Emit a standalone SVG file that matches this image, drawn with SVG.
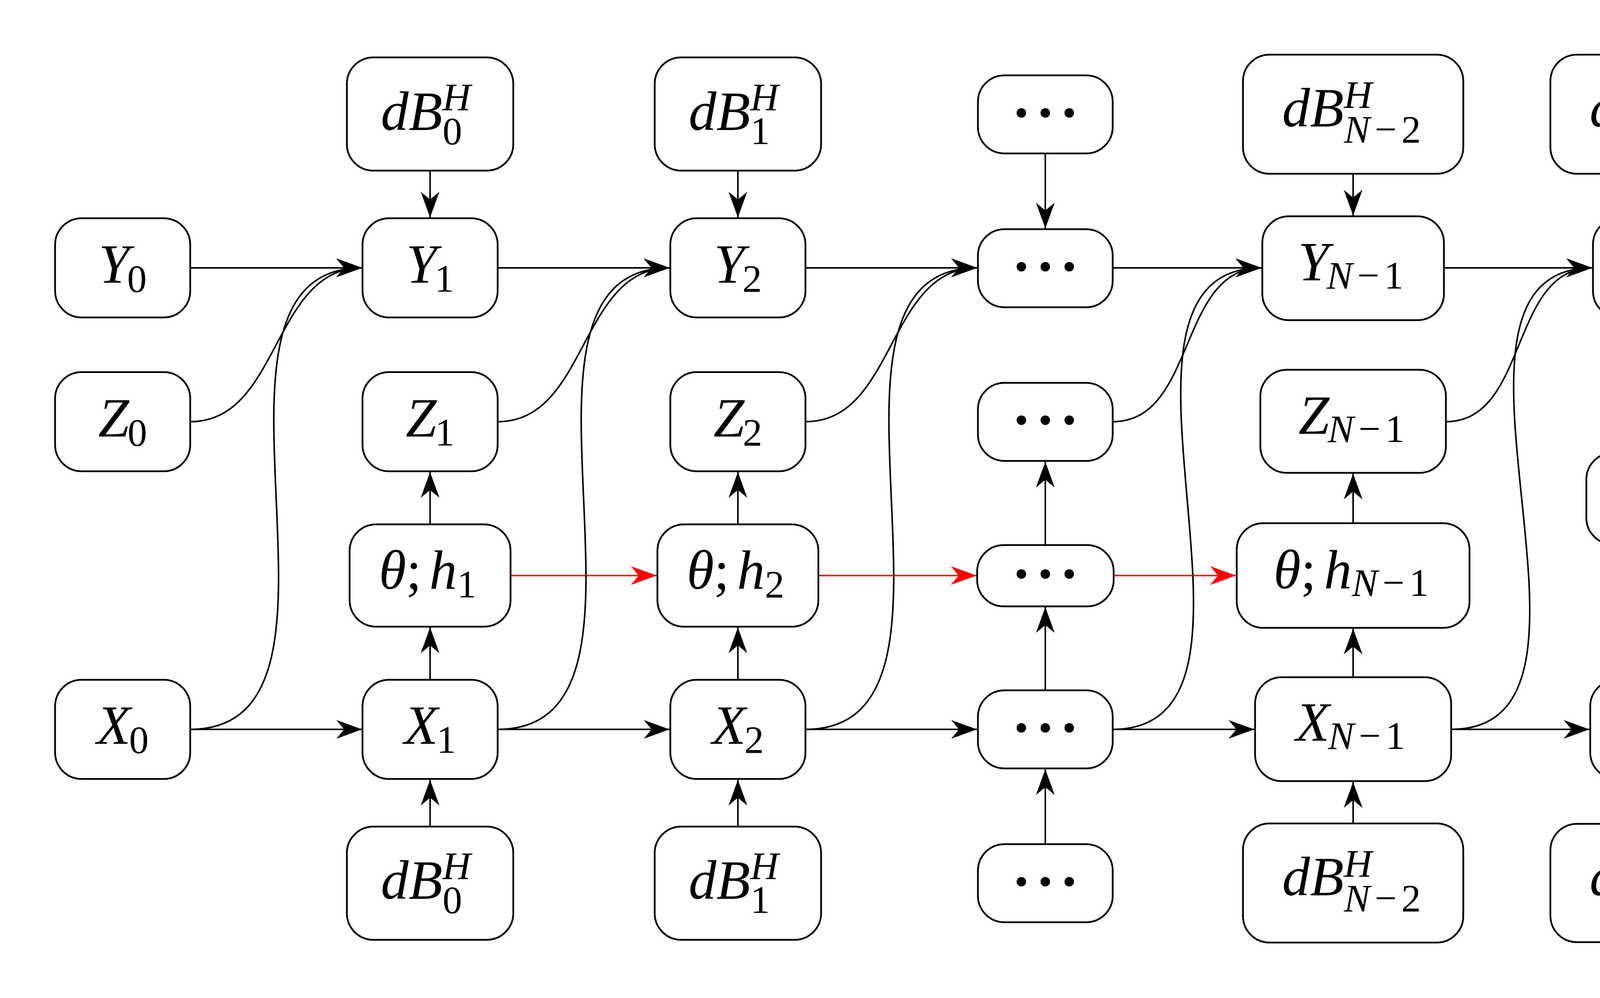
<svg xmlns="http://www.w3.org/2000/svg" width="4674" height="2556" viewBox="0 0 4674 2556">
<style>
.b{fill:#fff;stroke:#000;stroke-width:4.5}
.c{fill:none;stroke:#000;stroke-width:4;marker-end:url(#ah)}
.r{fill:none;stroke:#f00;stroke-width:4;marker-end:url(#ahr)}
.t{font-family:"Liberation Serif","Times New Roman",serif;font-size:142px;text-anchor:middle;fill:#000}
.i{font-style:italic}
.s{font-size:100px}
.d{font-family:"Noto Sans CJK JP","DejaVu Sans",sans-serif;font-size:184px;text-anchor:middle;fill:#000}
</style>
<defs>
<marker id="ah" markerUnits="userSpaceOnUse" markerWidth="70" markerHeight="52" viewBox="0 0 70 52" refX="66" refY="26" orient="auto"><path d="M0,2 L66,26 L0,50 L20,26 Z" fill="#000"/></marker>
<marker id="ahr" markerUnits="userSpaceOnUse" markerWidth="70" markerHeight="52" viewBox="0 0 70 52" refX="66" refY="26" orient="auto"><path d="M0,2 L66,26 L0,50 L20,26 Z" fill="#f00"/></marker>
</defs>
<rect width="4674" height="2556" fill="#fff"/>
<g id="connectors">
<path class="c" d="M487,686 H927"/>
<path class="c" d="M1274,686 H1714"/>
<path class="c" d="M2062,686 H2501"/>
<path class="c" d="M2848.5,686 H3229"/>
<path class="c" d="M3696.5,686 H4076"/>
<path class="c" d="M487,1868 H927"/>
<path class="c" d="M1274,1868 H1714"/>
<path class="c" d="M2062,1868 H2501"/>
<path class="c" d="M2848.5,1868 H3211"/>
<path class="c" d="M3715,1868 H4069"/>
<path class="r" d="M1307,1474 H1681"/>
<path class="r" d="M2095,1474 H2500"/>
<path class="r" d="M2851,1474 H3164"/>
<path class="c" d="M1101,437 V557"/>
<path class="c" d="M1889,437 V557"/>
<path class="c" d="M2676,393 V585"/>
<path class="c" d="M3464,445 V552"/>
<path class="c" d="M4251,445 V556"/>
<path class="c" d="M1101,1741 V1607"/>
<path class="c" d="M1889,1741 V1607"/>
<path class="c" d="M2676,1768 V1555"/>
<path class="c" d="M3464,1734.5 V1610"/>
<path class="c" d="M1101,1343 V1209"/>
<path class="c" d="M1889,1343 V1209"/>
<path class="c" d="M2676,1396 V1182.5"/>
<path class="c" d="M3464,1340 V1213"/>
<path class="c" d="M1101,2117 V1997"/>
<path class="c" d="M1889,2117 V1997"/>
<path class="c" d="M2676,2162 V1970"/>
<path class="c" d="M3464,2109 V2003"/>
<path class="c" d="M4251,2110 V1997"/>
<path class="c" d="M4251,813.5 V1158"/>
<path class="c" d="M4251,1741 V1396"/>
<path class="c" d="M487,1080 C718,1080 696,686 927,686"/>
<path class="c" d="M1274,1080 C1505,1080 1483,686 1714,686"/>
<path class="c" d="M2062,1080 C2293,1080 2270.5,686 2501.5,686"/>
<path class="c" d="M2848.5,1080 C3063,1080 3015,686 3229.5,686"/>
<path class="c" d="M3701.5,1080 C3914,1080 3863,686 4076,686"/>
<path class="c" d="M487,1868 C981,1868 433,686 927,686"/>
<path class="c" d="M1274,1868 C1768,1868 1220,686 1714,686"/>
<path class="c" d="M2062,1868 C2555.7,1868 2007.8,686 2501.5,686"/>
<path class="c" d="M2848.5,1868 C3334.5,1868 2743.5,686 3229.5,686"/>
<path class="c" d="M3715,1868 C4199,1868 3592,686 4076,686"/>
</g>
<g id="Y0"><rect class="b" x="141" y="559" width="346" height="254" rx="68"/><text class="t" x="314" y="724"><tspan class="i">Y</tspan><tspan class="s" dx="-6" dy="23">0</tspan></text></g>
<g id="Z0"><rect class="b" x="141" y="953" width="346" height="254" rx="68"/><text class="t" x="314" y="1118"><tspan class="i">Z</tspan><tspan class="s" dx="-4" dy="23">0</tspan></text></g>
<g id="X0"><rect class="b" x="141" y="1741" width="346" height="254" rx="68"/><text class="t" x="314" y="1905"><tspan class="i">X</tspan><tspan class="s" dx="-4" dy="23">0</tspan></text></g>
<g id="dBtop0"><rect class="b" x="888" y="147" width="426" height="290" rx="68"/><text class="t" x="1090" y="333"><tspan class="i">dB</tspan><tspan class="s i" dy="-51">H</tspan><tspan class="s" dx="-72" dy="87">0</tspan></text></g>
<g id="Y1"><rect class="b" x="928" y="559" width="346" height="254" rx="68"/><text class="t" x="1101" y="724"><tspan class="i">Y</tspan><tspan class="s" dx="-6" dy="23">1</tspan></text></g>
<g id="Z1"><rect class="b" x="928" y="953" width="346" height="254" rx="68"/><text class="t" x="1101" y="1118"><tspan class="i">Z</tspan><tspan class="s" dx="-4" dy="23">1</tspan></text></g>
<g id="TH1"><rect class="b" x="895" y="1343" width="412" height="262" rx="68"/><text class="t" x="1095" y="1508"><tspan class="i">θ</tspan><tspan>;</tspan><tspan class="i" dx="20">h</tspan><tspan class="s" dy="22">1</tspan></text></g>
<g id="X1"><rect class="b" x="928" y="1741" width="346" height="254" rx="68"/><text class="t" x="1101" y="1905"><tspan class="i">X</tspan><tspan class="s" dx="-4" dy="23">1</tspan></text></g>
<g id="dBbot0"><rect class="b" x="888" y="2117" width="426" height="290" rx="68"/><text class="t" x="1090" y="2302"><tspan class="i">dB</tspan><tspan class="s i" dy="-51">H</tspan><tspan class="s" dx="-72" dy="87">0</tspan></text></g>
<g id="dBtop1"><rect class="b" x="1676" y="147" width="426" height="290" rx="68"/><text class="t" x="1878" y="333"><tspan class="i">dB</tspan><tspan class="s i" dy="-51">H</tspan><tspan class="s" dx="-72" dy="87">1</tspan></text></g>
<g id="Y2"><rect class="b" x="1716" y="559" width="346" height="254" rx="68"/><text class="t" x="1889" y="724"><tspan class="i">Y</tspan><tspan class="s" dx="-6" dy="23">2</tspan></text></g>
<g id="Z2"><rect class="b" x="1716" y="953" width="346" height="254" rx="68"/><text class="t" x="1889" y="1118"><tspan class="i">Z</tspan><tspan class="s" dx="-4" dy="23">2</tspan></text></g>
<g id="TH2"><rect class="b" x="1683" y="1343" width="412" height="262" rx="68"/><text class="t" x="1883" y="1508"><tspan class="i">θ</tspan><tspan>;</tspan><tspan class="i" dx="20">h</tspan><tspan class="s" dy="22">2</tspan></text></g>
<g id="X2"><rect class="b" x="1716" y="1741" width="346" height="254" rx="68"/><text class="t" x="1889" y="1905"><tspan class="i">X</tspan><tspan class="s" dx="-4" dy="23">2</tspan></text></g>
<g id="dBbot1"><rect class="b" x="1676" y="2117" width="426" height="290" rx="68"/><text class="t" x="1878" y="2302"><tspan class="i">dB</tspan><tspan class="s i" dy="-51">H</tspan><tspan class="s" dx="-72" dy="87">1</tspan></text></g>
<g id="DOTStop"><rect class="b" x="2503.5" y="193" width="345" height="200" rx="68"/><text class="d" x="2676" y="359">⋯</text></g>
<g id="DOTSY"><rect class="b" x="2503.5" y="587" width="345" height="200" rx="68"/><text class="d" x="2676" y="753">⋯</text></g>
<g id="DOTSZ"><rect class="b" x="2503.5" y="980.5" width="345" height="200" rx="68"/><text class="d" x="2676" y="1146">⋯</text></g>
<g id="DOTSTH"><rect class="b" x="2501.5" y="1396" width="349.5" height="157" rx="68"/><text class="d" x="2676" y="1540">⋯</text></g>
<g id="DOTSX"><rect class="b" x="2503.5" y="1768" width="345" height="200" rx="68"/><text class="d" x="2676" y="1934">⋯</text></g>
<g id="DOTSbot"><rect class="b" x="2503.5" y="2162" width="345" height="200" rx="68"/><text class="d" x="2676" y="2328">⋯</text></g>
<g id="dBtopN2"><rect class="b" x="3182" y="140" width="564" height="305" rx="68"/><text class="t" x="3460" y="324"><tspan class="i">dB</tspan><tspan class="s i" dy="-48">H</tspan><tspan class="s i" dx="-72" dy="89">N</tspan><tspan class="s" dx="12">−</tspan><tspan class="s" dx="12">2</tspan></text></g>
<g id="YN1"><rect class="b" x="3231.5" y="554" width="465" height="266" rx="68"/><text class="t" x="3458" y="718"><tspan class="i">Y</tspan><tspan class="s i" dx="-6" dy="21">N</tspan><tspan class="s" dx="12">−</tspan><tspan class="s" dx="12">1</tspan></text></g>
<g id="ZN1"><rect class="b" x="3226.5" y="947" width="475" height="264" rx="68"/><text class="t" x="3460" y="1111"><tspan class="i">Z</tspan><tspan class="s i" dx="-4" dy="21">N</tspan><tspan class="s" dx="12">−</tspan><tspan class="s" dx="12">1</tspan></text></g>
<g id="THN1"><rect class="b" x="3166" y="1340" width="596" height="268" rx="68"/><text class="t" x="3459" y="1507"><tspan class="i">θ</tspan><tspan>;</tspan><tspan class="i" dx="20">h</tspan><tspan class="s i" dy="19">N</tspan><tspan class="s" dx="12">−</tspan><tspan class="s" dx="12">1</tspan></text></g>
<g id="XN1"><rect class="b" x="3213" y="1734.5" width="502" height="266" rx="68"/><text class="t" x="3457" y="1897"><tspan class="i">X</tspan><tspan class="s i" dx="-4" dy="21">N</tspan><tspan class="s" dx="12">−</tspan><tspan class="s" dx="12">1</tspan></text></g>
<g id="dBbotN2"><rect class="b" x="3182" y="2109" width="564" height="305" rx="68"/><text class="t" x="3460" y="2293"><tspan class="i">dB</tspan><tspan class="s i" dy="-48">H</tspan><tspan class="s i" dx="-72" dy="89">N</tspan><tspan class="s" dx="12">−</tspan><tspan class="s" dx="12">2</tspan></text></g>
<g id="dBtopN1"><rect class="b" x="3969" y="140" width="564" height="305" rx="68"/><text class="t" x="4247" y="324"><tspan class="i">dB</tspan><tspan class="s i" dy="-48">H</tspan><tspan class="s i" dx="-72" dy="89">N</tspan><tspan class="s" dx="12">−</tspan><tspan class="s" dx="12">1</tspan></text></g>
<g id="YN"><rect class="b" x="4078" y="558.5" width="346" height="255" rx="68"/><text class="t" x="4248" y="722"><tspan class="i">Y</tspan><tspan class="s i" dx="-6" dy="22">N</tspan></text></g>
<g id="loss"><rect class="b" x="4061" y="1160" width="380" height="234" rx="68"/><text class="t i" x="4251" y="1323">loss</text></g>
<g id="XN"><rect class="b" x="4071" y="1741" width="360" height="254" rx="68"/><text class="t" x="4246" y="1905"><tspan class="i">X</tspan><tspan class="s i" dx="-4" dy="22">N</tspan></text></g>
<g id="dBbotN1"><rect class="b" x="3969" y="2110" width="564" height="303" rx="68"/><text class="t" x="4247" y="2293"><tspan class="i">dB</tspan><tspan class="s i" dy="-48">H</tspan><tspan class="s i" dx="-72" dy="89">N</tspan><tspan class="s" dx="12">−</tspan><tspan class="s" dx="12">1</tspan></text></g>
</svg>
